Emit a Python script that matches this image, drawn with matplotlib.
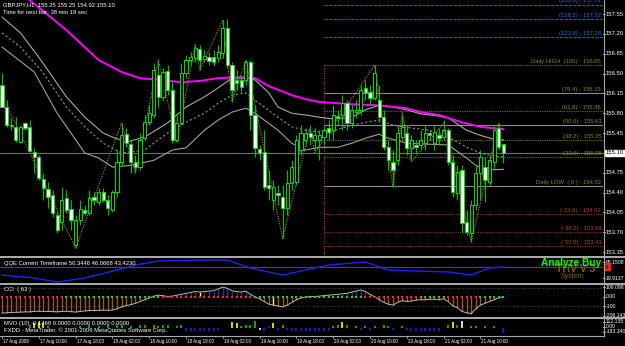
import numpy as np
import matplotlib
matplotlib.use('Agg')
import matplotlib.pyplot as plt
from matplotlib.patches import Rectangle
from matplotlib.lines import Line2D
from matplotlib.transforms import blended_transform_factory as blend

# --- data: GBPJPY H1, first bar 17 Aug 2009 02:00 ---
opens = [156.30, 155.91, 155.59, 155.56, 155.29, 155.63, 155.56, 155.11, 155.03, 154.64,
         154.46, 154.35, 154.00, 153.88, 154.30, 154.11, 153.47, 153.91, 154.09, 154.04,
         154.32, 154.23, 154.41, 154.27, 154.09, 154.41, 154.94, 155.43, 155.26, 154.94,
         154.85, 155.36, 155.64, 155.77, 156.47, 156.09, 156.55, 156.21, 155.33, 155.63,
         156.51, 156.74, 156.78, 156.93, 156.76, 156.79, 156.79, 156.78, 156.86, 157.31,
         156.65, 156.39, 156.39, 156.39, 156.70, 155.77, 155.17, 155.11, 154.53, 154.27,
         154.39, 154.32, 154.12, 154.57, 154.59, 155.15, 155.33, 155.45, 155.33, 155.33,
         155.38, 155.54, 155.50, 155.75, 155.77, 155.98, 155.63, 155.82, 155.86, 156.24,
         156.17, 156.07, 156.03, 155.73, 155.20, 154.94, 154.97, 155.38, 155.45, 155.18,
         155.24, 155.24, 155.27, 155.45, 155.27, 155.41, 155.38, 155.50, 154.94, 154.39,
         154.80, 153.88, 153.68, 154.18, 154.74, 154.85, 154.59, 154.94, 155.54, 155.25]
highs = [156.51, 156.03, 155.72, 155.73, 155.59, 155.65, 155.68, 155.19, 155.06, 154.74,
         154.58, 154.44, 154.05, 154.50, 154.44, 154.27, 154.00, 154.27, 154.18, 154.44,
         154.41, 154.48, 154.48, 154.35, 154.44, 155.15, 155.63, 155.54, 155.33, 155.06,
         155.45, 155.77, 155.94, 156.69, 156.74, 156.60, 156.65, 156.39, 155.77, 156.69,
         156.83, 156.88, 157.02, 157.00, 156.92, 156.88, 156.92, 157.00, 157.45, 157.46,
         156.70, 156.56, 156.47, 156.74, 156.74, 155.94, 155.24, 155.50, 154.80, 154.62,
         154.53, 154.53, 154.80, 154.97, 155.41, 155.59, 155.54, 155.59, 155.54, 155.50,
         155.59, 155.68, 155.94, 155.86, 156.12, 156.03, 155.94, 156.03, 156.30, 156.39,
         156.30, 156.65, 156.30, 155.86, 155.33, 155.15, 155.59, 155.77, 155.59, 155.41,
         155.33, 155.50, 155.59, 155.50, 155.59, 155.54, 155.68, 155.54, 155.06, 154.88,
         154.88, 154.09, 154.27, 154.88, 155.15, 155.03, 155.06, 155.59, 155.63, 155.25]
lows = [155.89, 155.56, 155.50, 155.29, 155.27, 155.50, 155.11, 154.74, 154.62, 154.27,
        154.12, 153.97, 153.68, 153.74, 154.04, 153.74, 153.42, 153.82, 154.00, 154.00,
        154.18, 154.18, 154.23, 154.00, 154.05, 154.32, 154.88, 155.20, 154.74, 154.74,
        154.80, 155.33, 155.59, 155.71, 155.89, 156.03, 156.12, 155.27, 155.29, 155.59,
        156.42, 156.65, 156.70, 156.56, 156.70, 156.65, 156.63, 156.70, 156.78, 156.60,
        156.00, 156.21, 156.17, 156.30, 155.50, 155.03, 154.97, 154.44, 154.27, 154.09,
        154.18, 153.59, 154.00, 154.44, 154.53, 155.06, 155.24, 155.24, 155.15, 154.97,
        155.24, 155.33, 155.33, 155.59, 155.50, 155.50, 155.54, 155.72, 155.77, 156.03,
        155.94, 156.03, 155.64, 155.15, 154.80, 154.50, 154.88, 155.33, 155.06, 154.97,
        155.10, 155.15, 155.15, 155.33, 155.15, 155.24, 155.33, 154.88, 154.32, 154.27,
        153.68, 153.65, 153.52, 154.09, 154.27, 154.23, 154.53, 154.80, 155.15, 154.92]
closes = [155.91, 155.59, 155.57, 155.33, 155.56, 155.54, 155.13, 155.03, 154.65, 154.48,
          154.32, 154.04, 153.74, 154.27, 154.09, 153.91, 153.91, 154.11, 154.04, 154.30,
          154.27, 154.41, 154.27, 154.12, 154.41, 154.94, 155.41, 155.27, 154.94, 154.85,
          155.33, 155.64, 155.80, 156.56, 156.09, 156.53, 156.21, 155.33, 155.63, 156.51,
          156.74, 156.79, 156.95, 156.74, 156.81, 156.72, 156.70, 156.88, 157.31, 156.65,
          156.21, 156.33, 156.26, 156.70, 155.77, 155.18, 155.10, 154.50, 154.48, 154.50,
          154.35, 154.12, 154.57, 154.85, 155.33, 155.45, 155.45, 155.38, 155.41, 155.41,
          155.50, 155.47, 155.77, 155.72, 155.98, 155.63, 155.86, 155.86, 156.21, 156.16,
          156.07, 156.51, 155.73, 155.20, 154.97, 154.80, 155.45, 155.56, 155.18, 155.33,
          155.20, 155.33, 155.45, 155.41, 155.47, 155.36, 155.50, 154.94, 154.41, 154.76,
          153.86, 153.70, 154.18, 154.74, 155.03, 154.62, 154.97, 155.50, 155.20, 155.10]

# moving averages, read at some bars (bar index, price)
ma_bars = [0, 6, 14, 21, 26, 30, 34, 39, 43, 47, 52, 55, 58, 63, 66, 69, 76, 82, 88, 91, 95, 100, 104, 109]
ma_vals = [158.22, 157.80, 157.27, 156.74, 156.53, 156.42, 156.39, 156.35, 156.37, 156.42, 156.44, 156.42,
           156.28, 156.12, 156.05, 156.00, 155.96, 155.94, 155.89, 155.82, 155.77, 155.64, 155.56, 155.52]
up_bars = [0, 4, 8, 11, 14, 18, 22, 24, 27, 31, 36, 40, 44, 47, 50, 53, 55, 58, 60, 63, 66, 69, 72,
           76, 79, 82, 85, 88, 91, 95, 97, 101, 104, 107, 109]
up_vals = [157.50, 157.22, 156.79, 156.44, 156.09, 155.73, 155.45, 155.38, 155.29, 155.38, 155.63, 155.91,
           156.09, 156.25, 156.42, 156.42, 156.39, 156.16, 155.91, 155.80, 155.77, 155.73, 155.70,
           155.73, 155.86, 155.94, 155.91, 155.86, 155.79, 155.75, 155.72, 155.50, 155.41, 155.34, 155.33]
mid_bars = [0, 4, 9, 14, 18, 22, 26, 31, 36, 40, 44, 47, 50, 53, 55, 60, 63, 66, 69, 72, 76, 79, 82,
            85, 89, 93, 97, 101, 104, 107, 109]
mid_vals = [157.22, 156.97, 156.51, 155.91, 155.56, 155.27, 155.10, 155.15, 155.45, 155.64, 155.80, 155.98,
            156.12, 156.16, 156.03, 155.73, 155.56, 155.50, 155.47, 155.49, 155.59, 155.64, 155.68,
            155.59, 155.54, 155.50, 155.38, 155.20, 155.10, 155.04, 155.03]
lo_bars = [0, 7, 12, 18, 21, 24, 28, 33, 37, 40, 44, 47, 50, 53, 55, 60, 63, 66, 69, 73, 76, 79, 82,
           84, 88, 91, 97, 101, 103, 105, 109]
lo_vals = [156.97, 156.53, 155.80, 155.10, 155.01, 154.85, 154.88, 154.97, 155.15, 155.19, 155.50, 155.68,
           155.82, 155.89, 155.80, 155.50, 155.27, 155.15, 155.20, 155.20, 155.27, 155.36, 155.43,
           155.36, 155.27, 155.26, 155.24, 155.01, 154.88, 154.80, 154.81]
zz_bars = [1, 16, 26, 29, 34, 38, 42, 43, 48, 50, 53, 61, 67, 68, 81, 85, 87, 89, 96, 102, 108]
zz_vals = [155.95, 153.42, 155.63, 154.74, 156.74, 155.29, 157.02, 156.56, 157.45, 156.00, 156.74,
           153.59, 155.54, 155.10, 156.65, 154.50, 155.82, 154.94, 155.63, 153.52, 155.63]

bid = 155.10
price_ticks = [157.55, 157.20, 156.85, 156.50, 156.15, 155.80, 155.45, 155.10,
               154.75, 154.40, 154.05, 153.70, 153.35]

# fibo from the daily high/low, anchored at 20 Aug 00:00 (bar 70)
fib_bar = 70
fib_prices = [157.72, 157.46, 157.15, 156.65, 156.15, 155.84, 155.585, 155.33, 155.02,
              154.52, 154.02, 153.71, 153.455]
fib_labels = ['(150.0) - 157.72', '(138.2) - 157.52', '(123.6) - 157.28', 'Daily HIGH  (100) - 156.65',
              '(76.4) - 156.15', '(61.8) - 155.86', '(50.0) - 155.63', '(38.2) - 155.35',
              '(23.6) - 155.08', 'Daily LOW  ( 0 ) - 154.52', '(-23.6) - 154.01',
              '(-38.2) - 153.69', '(-50.0) - 153.43']
fib_kind = ['b', 'b', 'b', 'o', 'g', 'o', 'g', 'o', 'o', 'g', 'r', 'r', 'r']

qqe_bars = [0, 7, 12, 18, 25, 29, 34, 42, 49, 54, 61, 68, 71, 79, 84, 90, 97, 102, 106, 109]
qqe_vals = [28.4, 19.9, 8.5, 19.9, 42.5, 56.7, 68.0, 70.5, 70.8, 48.2, 28.4, 48.2, 56.7, 65.2,
            42.5, 39.7, 36.9, 28.4, 48.2, 51.0]

cci = [-178, -175, -172, -170, -168, -165, -165, -160, -158, -160,
       -160, -162, -165, -160, -158, -162, -168, -160, -155, -150,
       -150, -148, -145, -148, -145, -130, -110, -95, -85, -70,
       -50, -30, -10, 10, 20, 15, 5, 10, 20, 30,
       40, 50, 60, 55, 60, 65, 70, 90, 110, 95,
       70, 60, 55, 65, 30, 0, -20, -50, -80, -90,
       -100, -110, -90, -60, -30, -10, 0, 5, 5, 10,
       15, 20, 25, 30, 35, 40, 55, 65, 78, 60,
       30, 0, -30, -60, -80, -90, -60, -40, -50, -45,
       -35, -30, -30, -25, -25, -30, -20, -50, -100, -120,
       -160, -175, -185, -130, -90, -70, -50, -30, -10, 5]
cci_dots = ('rrrrrrrrrr' 'rrrrgggggg' 'gggggggggg' 'gggggrrrrr' 'rrrrrrrrrr'
            'rrrrrggggg' 'gggggggggg' 'gggggggggr' 'rrrrrrrrrr' 'rggggggrrr' 'rrrrgggggg')
cci_yellow = [43, 59]

mvo = [0, 0, 0, 0, 0, 0, 60, 100, 110, 90,
       40, 0, 0, 0, 0, 0, 0, 40, 0, 50,
       0, 40, 0, 50, 0, 60, 50, 0, 40, 0,
       50, 60, 0, 50, 40, 60, 50, 0, 40, 60,
       -50, -60, -50, -60, -50, -60, -50, -40, 0, 0,
       110, 100, 40, 50, 50, 130, -40, -50, 40, 100,
       -40, 50, -40, -60, -50, -60, -50, -60, -50, -60,
       -50, -60, 40, 60, 110, 60, 0, 40, -40, 40,
       -40, 40, 0, 50, 40, -40, 0, 40, -40, -50,
       -60, -50, -60, -50, -60, -50, 0, 50, 110, 60,
       130, 0, 40, 40, 0, 40, 0, 40, 0, -90]
mvo_col = ('......gyyy' 'g......g.g' '.g.g.gg.g.' 'gg.gggg.gg' 'bbbbbbbb..'
           'yyggggwbby' 'bgbbbbbbbb' 'bbggyg.gbg' 'bg.ggb.gbb' 'bbbbbb.gyg' 'w.gg.g.g.b')

date_bars = [0, 8, 16, 24, 32, 40, 48, 56, 64, 72, 80, 88, 96, 104]
date_labels = ['17 Aug 2009', '17 Aug 10:00', '17 Aug 18:00', '18 Aug 02:00', '18 Aug 10:00',
               '18 Aug 18:00', '19 Aug 02:00', '19 Aug 10:00', '19 Aug 18:00', '20 Aug 02:00',
               '20 Aug 10:00', '20 Aug 18:00', '21 Aug 02:00', '21 Aug 10:00']

# --- layout in pixels ---
W, H = 625, 346
BAR = 4.6
X0 = 2
RIGHT = 603
FONT = 'Liberation Sans'
SEP = '#a8a8a8'
FS = 4.2

def fx(x):
    return x / W

def fy(y):
    return 1 - y / H

fig = plt.figure(figsize=(W / 100, H / 100), dpi=100, facecolor='black')

def panel(top, bottom, ylim):
    ax = fig.add_axes([0, fy(bottom), RIGHT / W, (bottom - top) / H])
    ax.set_xlim(-X0 / BAR, (RIGHT - X0) / BAR)
    ax.set_ylim(*ylim)
    ax.axis('off')
    return ax

def rlabel(ax, val, txt, color='white', box=None, fs=FS):
    tr = blend(ax.transAxes, ax.transData)
    ax.text(1 + 3 / RIGHT, val, txt, transform=tr, color=color, fontsize=fs, family=FONT,
            va='center', ha='left', clip_on=False, bbox=box)
    ax.add_line(Line2D([1, 1 + 2 / RIGHT], [val, val], transform=tr, color='#c0c0c0', lw=0.6,
                       clip_on=False))

n = len(opens)
idx = np.arange(n)

# main chart
ax = panel(0, 256, (153.28, 157.80))
ax.axhline(bid, color='#687078', lw=0.8, zorder=1)

fib_col = {'b': '#2a50d0', 'o': '#6e6e00', 'g': '#8c8c8c', 'r': '#8a2c2c'}
fib_txt = {'b': '#3a64e0', 'o': '#8a8a10', 'g': '#8a8a10', 'r': '#b04040'}
fib_ls = {'b': (0, (3, 1)), 'o': (0, (1, 1)), 'g': '-', 'r': (0, (1, 1))}
x_end = (RIGHT - X0) / BAR
for p, lab, k in zip(fib_prices, fib_labels, fib_kind):
    ax.plot([fib_bar, x_end], [p, p], color=fib_col[k], lw=0.8, ls=fib_ls[k], zorder=1)
    ax.text(x_end - 0.4, p + 0.02, lab, color=fib_txt[k], fontsize=FS, family=FONT,
            ha='right', va='bottom', zorder=5)
ax.plot([fib_bar, fib_bar], [fib_prices[3], 153.28], color='#b02858', lw=0.9, ls=(0, (1, 1)), zorder=1)

ax.plot(zz_bars, zz_vals, color='#b08a10', lw=0.8, ls=(0, (1, 1.2)), zorder=2)
ax.plot(up_bars, up_vals, color='#a8a8a8', lw=0.8, zorder=2)
ax.plot(mid_bars, mid_vals, color='#909090', lw=0.8, ls=(0, (2, 2)), zorder=2)
ax.plot(lo_bars, lo_vals, color='#a0a0a0', lw=0.8, zorder=2)
ax.plot(ma_bars, ma_vals, color='#ff00ff', lw=1.4, zorder=2)

ax.vlines(idx, lows, highs, color='#00c000', lw=0.8, zorder=3)
for i, (o, c) in enumerate(zip(opens, closes)):
    lo, hi = min(o, c), max(o, c)
    ax.add_patch(Rectangle((i - 0.33, lo), 0.66, max(hi - lo, 0.012),
                           facecolor='white' if c < o else 'black',
                           edgecolor='#00e000', lw=0.7, zorder=4))

for p in price_ticks:
    if p == bid:
        rlabel(ax, p, '155.10', color='black',
               box=dict(boxstyle='square,pad=0.15', fc='white', ec='white'))
    else:
        rlabel(ax, p, f'{p:.2f}')

fig.text(fx(3), fy(5), 'GBPJPY,H1  155.25 155.25 154.92 155.10', color='white',
         fontsize=FS, family=FONT, va='center')
fig.text(fx(3), fy(12), 'Time for next bar: 38 min 19 sec', color='white',
         fontsize=FS, family=FONT, va='center')

# QQE
SUB = 3.7
aq = panel(258, 283, (5.8, 76.5))
aq.axhline(50, color='#b000b0', lw=0.8)
aq.plot(qqe_bars, qqe_vals, color='#2020ff', lw=1.0)
rlabel(aq, 65.1508, '65.1508', fs=SUB)
rlabel(aq, 19.9137, '19.9137', fs=SUB)
aq.text(1 + 1 / RIGHT, 51, '50', transform=blend(aq.transAxes, aq.transData), color='black',
        fontsize=3.4, family=FONT, va='center', clip_on=False,
        bbox=dict(boxstyle='square,pad=0.1', fc='#ff2020', ec='#ff2020'))
fig.text(fx(4), fy(263), 'QQE Current Timeframe 50.3446 46.0668 43.4230', color='white',
         fontsize=FS, family=FONT, va='center')
fig.text(fx(576), fy(268.5), 'THV V 3', color='#7a6a00', fontsize=7.5, family=FONT,
         weight='bold', ha='center', va='center', zorder=-1)
fig.text(fx(571), fy(263), 'Analyze Buy', color='#00ff00', fontsize=7.3, family=FONT,
         weight='bold', ha='center', va='center')
fig.text(fx(572), fy(276), 'System', color='#7a6a00', fontsize=5, family=FONT,
         ha='center', va='center')

# CCI
ac = panel(285, 317, (-222, 133))
for lv in (100, -100):
    ac.axhline(lv, color='#606060', lw=0.6, ls=(0, (1, 2)))
cci = np.array(cci)
cols = np.where(cci < 0, '#a0522d', '#3a2c8c')
for i in cci_yellow:
    cols[i] = '#ffff00'
ac.vlines(idx, 0, cci, colors=cols, lw=1.0)
ac.plot(idx, cci, color='#b8b8b8', lw=0.7)
dot_c = ['#ff2020' if d == 'r' else '#20d020' for d in cci_dots]
ac.scatter(idx, np.zeros(n), c=dot_c, marker='s', s=2.2, lw=0, zorder=5)
fig.text(fx(4), fy(290), 'CCI  ( 63 )', color='white', fontsize=FS, family=FONT, va='center')
rlabel(ac, 109.098, '109.098', fs=SUB)
rlabel(ac, 0, '0.00', fs=SUB)
rlabel(ac, -100, '-100', fs=SUB)
rlabel(ac, -206.143, '-206.143', fs=SUB)

# MVO
am = panel(319, 335, (-131, 168))
mcol = {'g': '#00d000', 'y': '#ffff00', 'w': '#ffffff', 'b': '#2020e0', '.': 'black'}
am.vlines(idx, 0, mvo, colors=[mcol[c] for c in mvo_col], lw=1.2)
fig.text(fx(4), fy(323), 'MVO (10) -0.1468 0.0000 0.0000 0.0000 0.0000', color='white',
         fontsize=FS, family=FONT, va='center')
fig.text(fx(4), fy(330.5), 'FXDD - MetaTrader, \u00a9 2001-2009 MetaQuotes Software Corp.',
         color='white', fontsize=FS, family=FONT, va='center')
rlabel(am, 112.135, '112.135', fs=SUB)
rlabel(am, 20, '0.00', fs=SUB)
rlabel(am, -70, '-183.3407', fs=SUB)

# separators and frame
for y0, y1 in [(256, 258), (283, 285), (317, 319)]:
    fig.add_artist(Rectangle((0, fy(y1)), 1, (y1 - y0) / H, transform=fig.transFigure,
                             facecolor=SEP, edgecolor='none'))
fig.add_artist(Line2D([0, fx(RIGHT)], [fy(335.5)] * 2, transform=fig.transFigure,
                      color=SEP, lw=0.8))
fig.add_artist(Line2D([fx(RIGHT + 0.5)] * 2, [fy(0), fy(335.5)], transform=fig.transFigure,
                      color=SEP, lw=0.8))

# time axis
for b, lab in zip(date_bars, date_labels):
    xp = X0 + b * BAR
    fig.add_artist(Line2D([fx(xp)] * 2, [fy(335.5), fy(338)], transform=fig.transFigure,
                          color=SEP, lw=0.6))
    fig.text(fx(xp + 1), fy(341), lab, color='white', fontsize=3.3, family=FONT, va='center')

fig.savefig('out.png', dpi=100, facecolor='black')
